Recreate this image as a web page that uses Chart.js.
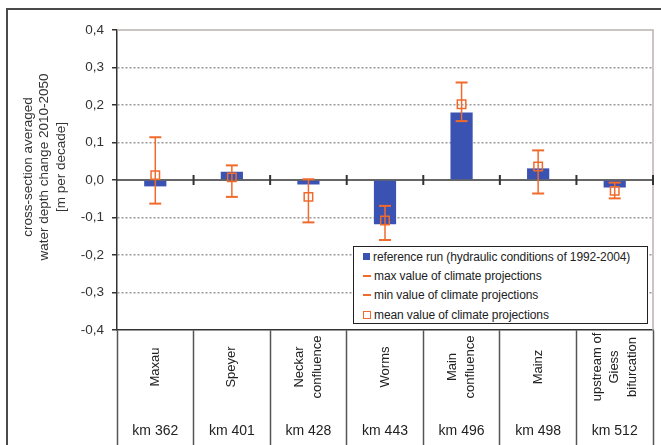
<!DOCTYPE html>
<html>
<head>
<meta charset="utf-8">
<script src="https://cdn.jsdelivr.net/npm/chart.js@4.4.0/dist/chart.umd.min.js"></script>
<style>
  html, body { margin: 0; padding: 0; background: #fff; }
  #wrap { position: relative; width: 661px; height: 445px; overflow: hidden; }
  #legend {
    position: absolute; left: 353px; top: 246px; width: 295px; height: 78px;
    box-sizing: border-box; border: 1px solid #222; background: #fff;
    padding: 0 0 0 9px;
    font: 12px 'Liberation Sans', Arial, sans-serif; color: #222; letter-spacing: -0.1px;
  }
  .item { height: 19.3px; display: flex; align-items: center; white-space: nowrap; }
  .mark { width: 8px; height: 8px; margin-right: 3px; box-sizing: border-box; flex: none; }
</style>
</head>
<body>
<div id="wrap">
  <canvas id="myChart" width="661" height="445"></canvas>
  <div id="legend"></div>
</div>
<script>
// data
const categories = ['Maxau', 'Speyer', ['Neckar', 'confluence'], 'Worms', ['Main', 'confluence'], 'Mainz', ['upstream of', 'Giess', 'bifurcation']];
const kmLabels = ['km 362', 'km 401', 'km 428', 'km 443', 'km 496', 'km 498', 'km 512'];
const referenceRun = [-0.017, 0.022, -0.012, -0.118, 0.18, 0.031, -0.02];
const maxValues = [0.114, 0.039, 0.002, -0.069, 0.26, 0.079, -0.007];
const minValues = [-0.063, -0.045, -0.113, -0.16, 0.157, -0.036, -0.049];
const meanValues = [0.013, 0.007, -0.045, -0.108, 0.202, 0.036, -0.029];
const yTitle = ['cross-section averaged', 'water depth change 2010-2050', '[m per decade]'];

const blue = '#3a52b2';
const orange = '#f06a2c';
const font = "'Liberation Sans', Arial, sans-serif";

const extras = {
    id: 'extras',
    beforeDraw(chart) {
        const ctx = chart.ctx;
        // outer frame
        ctx.save();
        ctx.strokeStyle = '#4a4a4a';
        ctx.lineWidth = 2;
        ctx.beginPath();
        ctx.moveTo(7, 445);
        ctx.lineTo(7, 9);
        ctx.lineTo(661, 9);
        ctx.stroke();
        ctx.restore();
    },
    beforeDatasetsDraw(chart) {
        const ctx = chart.ctx;
        const x = chart.scales.x, y = chart.scales.y;
        const area = chart.chartArea;
        const n = categories.length;
        const w = (x.right - x.left) / n;
        ctx.save();
        // plot area top / right border
        ctx.strokeStyle = '#b9b3b0';
        ctx.lineWidth = 1.5;
        ctx.beginPath();
        ctx.moveTo(area.left, area.top);
        ctx.lineTo(area.right, area.top);
        ctx.lineTo(area.right, area.bottom);
        ctx.stroke();
        // zero line with tick marks
        const y0 = y.getPixelForValue(0);
        ctx.strokeStyle = '#333';
        ctx.lineWidth = 1.5;
        ctx.beginPath();
        ctx.moveTo(area.left, y0);
        ctx.lineTo(area.right, y0);
        ctx.stroke();
        ctx.lineWidth = 2;
        for (let i = 1; i <= n; i++) {
            const bx = x.left + i * w;
            ctx.beginPath();
            ctx.moveTo(bx, y0 - 5);
            ctx.lineTo(bx, y0 + 5);
            ctx.stroke();
        }
        ctx.restore();
    },
    afterDatasetDraw(chart, args) {
        if (args.index !== 0) return;
        const ctx = chart.ctx;
        const x = chart.scales.x, y = chart.scales.y;
        ctx.save();
        ctx.strokeStyle = orange;
        ctx.lineWidth = 1.5;
        for (let i = 0; i < categories.length; i++) {
            const px = x.getPixelForValue(i);
            ctx.beginPath();
            ctx.moveTo(px, y.getPixelForValue(maxValues[i]));
            ctx.lineTo(px, y.getPixelForValue(minValues[i]));
            ctx.stroke();
        }
        ctx.restore();
    },
    afterDraw(chart) {
        const ctx = chart.ctx;
        const x = chart.scales.x;
        ctx.save();
        ctx.fillStyle = '#222';
        ctx.textAlign = 'center';
        ctx.textBaseline = 'middle';
        // rotated category names
        ctx.font = '13px ' + font;
        for (let i = 0; i < categories.length; i++) {
            const lines = [].concat(categories[i]);
            const px = x.getPixelForValue(i);
            lines.forEach((line, j) => {
                ctx.save();
                ctx.translate(px + (j - (lines.length - 1) / 2) * 17.5, 367);
                ctx.rotate(-Math.PI / 2);
                ctx.fillText(line, 0, 0);
                ctx.restore();
            });
        }
        // km labels
        ctx.font = '14px ' + font;
        for (let i = 0; i < kmLabels.length; i++) {
            ctx.fillText(kmLabels[i], x.getPixelForValue(i), 431);
        }
        // y axis title
        ctx.font = '13.5px ' + font;
        ctx.fillStyle = '#333';
        yTitle.forEach((line, j) => {
            ctx.save();
            ctx.translate(28 + j * 16.5, 167);
            ctx.rotate(-Math.PI / 2);
            ctx.fillText(line, 0, 0);
            ctx.restore();
        });
        ctx.restore();
    }
};

const chart = new Chart(document.getElementById('myChart'), {
    type: 'bar',
    data: {
        labels: categories,
        datasets: [{
            label: 'reference run (hydraulic conditions of 1992-2004)',
            data: referenceRun,
            backgroundColor: blue,
            barPercentage: 0.29,
            categoryPercentage: 1,
            order: 2
        }, {
            type: 'line',
            label: 'max value of climate projections',
            data: maxValues,
            showLine: false,
            pointStyle: 'line',
            pointRadius: 6,
            pointBorderWidth: 2,
            borderColor: orange,
            order: 1
        }, {
            type: 'line',
            label: 'min value of climate projections',
            data: minValues,
            showLine: false,
            pointStyle: 'line',
            pointRadius: 6,
            pointBorderWidth: 2,
            borderColor: orange,
            order: 1
        }, {
            type: 'line',
            label: 'mean value of climate projections',
            data: meanValues,
            showLine: false,
            pointStyle: 'rect',
            pointRadius: 6,
            pointBorderWidth: 1.5,
            borderColor: orange,
            backgroundColor: 'rgba(0,0,0,0)',
            order: 1
        }]
    },
    options: {
        responsive: false,
        animation: false,
        layout: { padding: { top: 30, right: 3, left: 0, bottom: 0 } },
        plugins: {
            legend: { display: false },
            tooltip: { enabled: false }
        },
        scales: {
            x: {
                ticks: { display: false },
                grid: {
                    drawOnChartArea: false,
                    drawTicks: true,
                    tickLength: 115,
                    tickColor: '#555',
                    tickWidth: 1.5
                },
                border: { display: true, color: '#333', width: 1.5 }
            },
            y: {
                min: -0.4,
                max: 0.4,
                afterFit(scale) { scale.width = 117; },
                ticks: {
                    stepSize: 0.1,
                    padding: 8,
                    color: '#333',
                    font: { family: font, size: 13.5 },
                    callback: v => v.toFixed(1).replace('.', ',')
                },
                grid: {
                    color: c => (Math.abs(c.tick.value) < 1e-6 || Math.abs(Math.abs(c.tick.value) - 0.4) < 1e-6) ? 'rgba(0,0,0,0)' : '#999',
                    lineWidth: 1.5,
                    tickLength: 5,
                    tickColor: '#333',
                    tickWidth: 1.5
                },
                border: { display: true, color: '#333', width: 1.5, dash: [2, 2] }
            }
        }
    },
    plugins: [extras]
});

// legend box built from the datasets
const marks = [
    'background:' + blue + ';width:7px;height:7px;',
    'background:' + orange + ';height:2px;',
    'background:' + orange + ';height:2px;',
    'border:1.5px solid ' + orange + ';'
];
document.getElementById('legend').innerHTML = chart.data.datasets.map((d, i) =>
    '<div class="item"><span class="mark" style="' + marks[i] + '"></span>' + d.label + '</div>'
).join('');
</script>
</body>
</html>
